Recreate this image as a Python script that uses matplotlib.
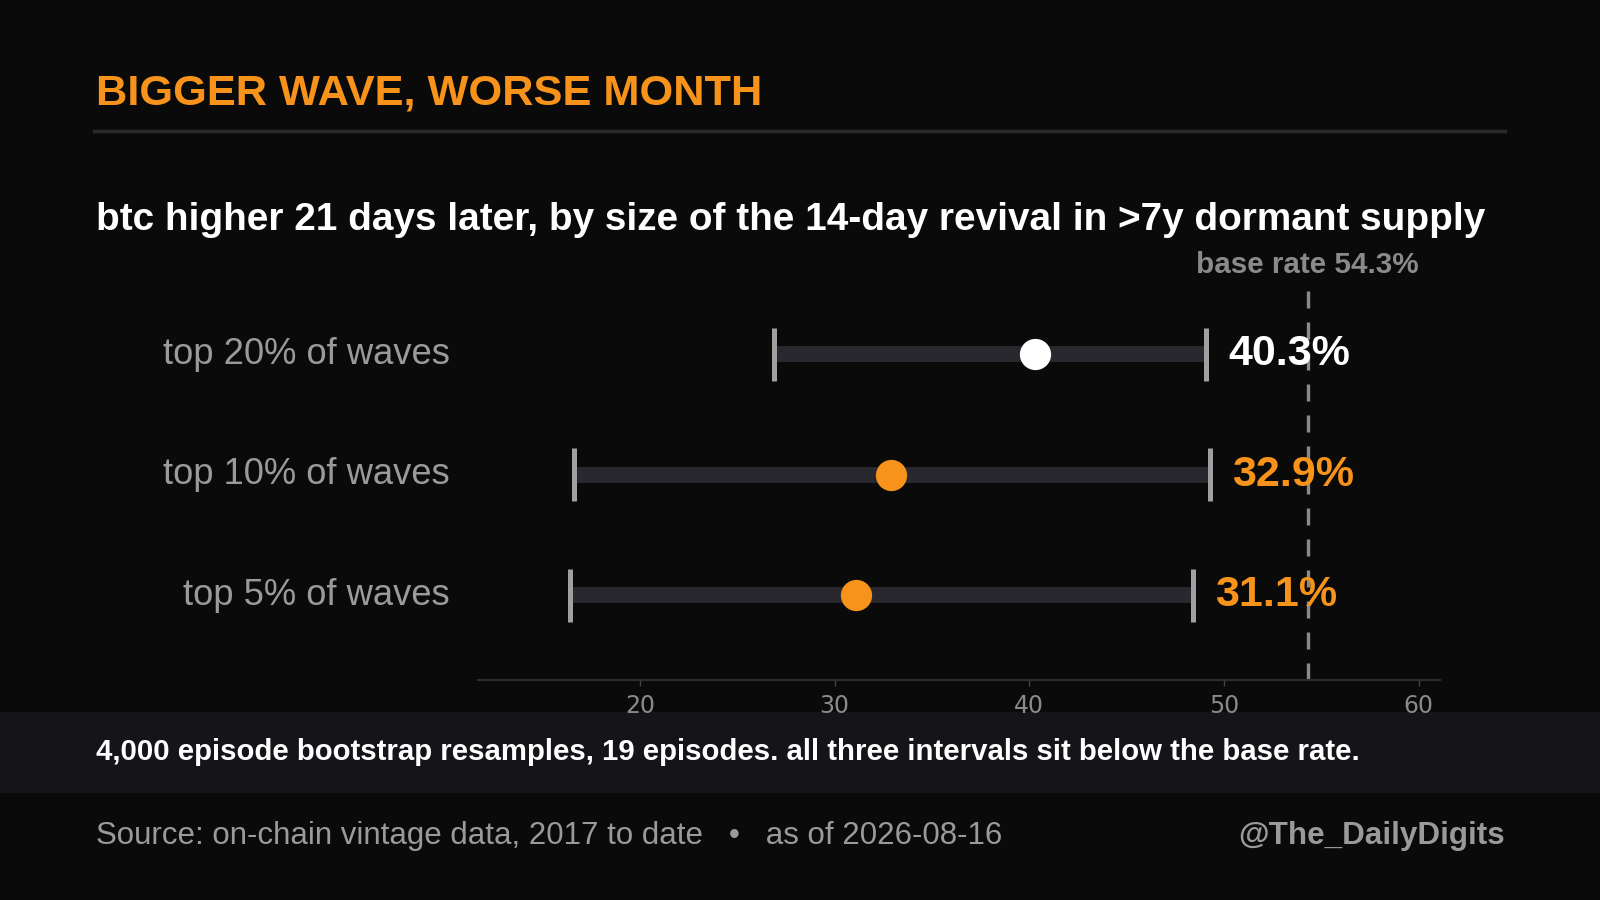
import matplotlib.pyplot as plt
from matplotlib.patches import Rectangle

# data
labels = ['top 20% of waves', 'top 10% of waves', 'top 5% of waves']
point = [40.3, 32.9, 31.1]
lower = [26.9, 16.6, 16.4]
upper = [49.1, 49.3, 48.4]
base_rate = 54.3
xticks = [20, 30, 40, 50, 60]

BG = '#0a0a0a'
ORANGE = '#f7931a'
GREY = '#9a9a9a'

plt.rcParams['font.family'] = ['Liberation Sans', 'DejaVu Sans']

fig = plt.figure(figsize=(16, 9), dpi=100)
fig.patch.set_facecolor(BG)

ax = fig.add_axes([0.299, 0.2444, 0.601, 0.4356])
ax.set_facecolor(BG)

rows = [2, 1, 0]
dot_colors = ['white', ORANGE, ORANGE]

for y, lab, p, lo, hi, c in zip(rows, labels, point, lower, upper, dot_colors):
    ax.hlines(y, lo, hi, color='#28282e', lw=11.5, zorder=2)
    ax.vlines([lo, hi], y - 0.22, y + 0.22, color='#a0a0a0', lw=3.6, zorder=3)
    ax.plot(p, y, 'o', ms=22.5, color=c, mec='none', zorder=4)
    ax.annotate(f'{p:.1f}%', xy=(hi, y), xytext=(16, 0), textcoords='offset points',
                ha='left', va='center', fontsize=31, fontweight='bold', color=c, zorder=5)
    ax.text(-0.030, y, lab, transform=ax.get_yaxis_transform(), ha='right', va='center',
            fontsize=26.2, color=GREY)

ax.axvline(base_rate, color='#8a8a8a', lw=2.4, dashes=(5.1, 4.2), zorder=1)
ax.annotate(f'base rate {base_rate}%', xy=(base_rate, 1), xycoords=('data', 'axes fraction'),
            xytext=(0, 11), textcoords='offset points', ha='center', va='baseline',
            fontsize=21.3, fontweight='bold', color='#8a8a8a')

ax.set_xlim(11.7, 61.1)
ax.set_ylim(-0.705, 2.548)
ax.set_xticks(xticks)
ax.set_yticks([])
for s in ['top', 'right', 'left']:
    ax.spines[s].set_visible(False)
ax.spines['bottom'].set_color('#2e2e2e')
ax.spines['bottom'].set_linewidth(1.5)
ax.tick_params(axis='x', colors='#444444', length=4, width=1, pad=6)
for t in ax.get_xticklabels():
    t.set_color('#8a8a8a')
    t.set_fontsize(17)
    t.set_fontfamily('DejaVu Sans')

# header
fig.text(0.06, 0.8844, 'BIGGER WAVE, WORSE MONTH', fontsize=31.2, fontweight='bold',
         color=ORANGE, va='baseline')
fig.add_artist(plt.Line2D([0.059, 0.9406], [0.8544, 0.8544], color='#2a2a2e', lw=2.5))
fig.text(0.06, 0.7444, 'btc higher 21 days later, by size of the 14-day revival in >7y dormant supply',
         fontsize=27.9, fontweight='bold', color='white', va='baseline')

# footnote band
fig.add_artist(Rectangle((0, 0.1189), 1, 0.09, transform=fig.transFigure,
                         facecolor='#141419', edgecolor='none', zorder=0))
fig.text(0.06, 0.1556, '4,000 episode bootstrap resamples, 19 episodes. all three intervals sit below the base rate.',
         fontsize=21.2, fontweight='bold', color='white', va='baseline')

fig.text(0.06, 0.0622, 'Source: on-chain vintage data, 2017 to date   \u2022   as of 2026-08-16',
         fontsize=22.5, color=GREY, va='baseline')
fig.text(0.9406, 0.0622, '@The_DailyDigits', fontsize=22.6, fontweight='bold',
         color=GREY, va='baseline', ha='right')

fig.savefig('out.png', dpi=100, facecolor=BG)
